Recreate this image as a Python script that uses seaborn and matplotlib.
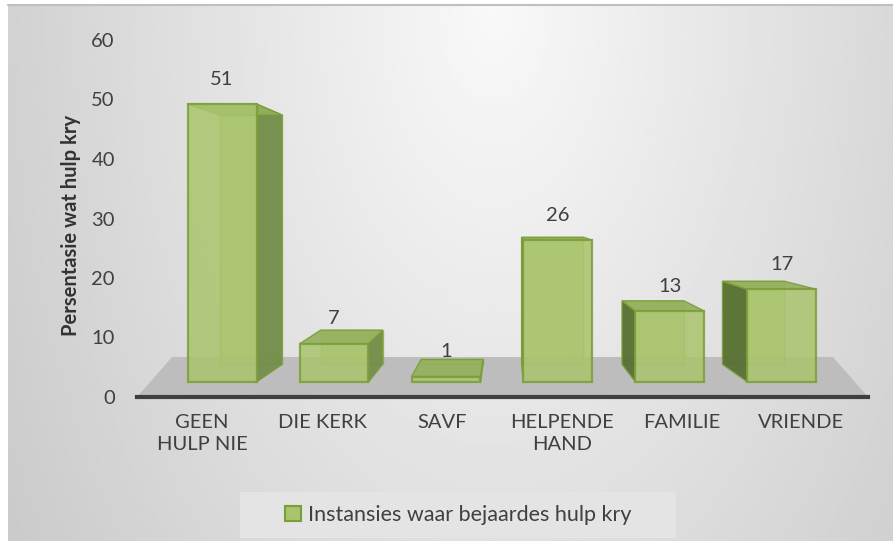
import numpy as np
import matplotlib.pyplot as plt
import seaborn as sns
from matplotlib.patches import Polygon, Patch, Rectangle
from matplotlib.lines import Line2D

# ── Data ──────────────────────────────────────────────────────
categories = ["GEEN\nHULP NIE", "DIE KERK", "SAVF", "HELPENDE\nHAND", "FAMILIE", "VRIENDE"]
values = [51, 7, 1, 26, 13, 17]
yticks = [0, 10, 20, 30, 40, 50, 60]
series_name = "Instansies waar bejaardes hulp kry"
y_title = "Persentasie wat hulp kry"

sns.set_style("white")
plt.rcParams['font.family'] = ['Lato', 'DejaVu Sans']

GREEN = '#A9C46C'
EDGE = '#7A9E38'
SIDE = '#738C4A'
TOP = '#93B05B'
TXT = '#404040'
FS = 14.5

W, H = 893, 547
fig = plt.figure(figsize=(W / 100, H / 100), dpi=100, facecolor='white')


def px(x0, y0, x1, y1):
    # pixel box (origin top-left) -> figure fraction rect
    return [x0 / W, 1 - y1 / H, (x1 - x0) / W, (y1 - y0) / H]


# ── Background gradient ───────────────────────────────────────
bg = fig.add_axes(px(8, 6, W, 541))
gx, gy = np.meshgrid(np.linspace(0, 1, 300), np.linspace(0, 1, 200))
r = np.hypot((gx - 0.55) / 0.5, 0.7 * gy)
bg.imshow(0.975 - 0.14 * np.minimum(r, 1.3), cmap='gray', vmin=0, vmax=1, aspect='auto')
bg.axis('off')
fig.add_artist(Line2D([8 / W, 1], [1 - 5 / H, 1 - 5 / H], color='#BFBFBF', lw=1.5))

# ── Value axis (ticks + title) ────────────────────────────────
ax_t = fig.add_axes(px(137, 40, 868, 397))
ax_t.patch.set_visible(False)
ax_t.set_ylim(0, 60)
ax_t.set_yticks(yticks)
ax_t.set_xticks([])
ax_t.tick_params(axis='y', length=0, pad=16, labelsize=FS, colors=TXT)
for s in ax_t.spines.values():
    s.set_visible(False)
ax_t.set_ylabel(y_title, fontsize=FS, fontweight='bold', color='#333333')
ax_t.yaxis.set_label_coords(-0.076, 0.48)

# ── Bar axes with pseudo-3D ───────────────────────────────────
ax = fig.add_axes(px(137, 40, 868, 397))
ax.patch.set_visible(False)
vp = (2.527, 31.4)   # vanishing point in data units
k = 0.897            # depth scale of the back face
w = 0.616

ax.add_patch(Polygon([(-0.759, -2.75), (5.768, -2.75), (5.455, 4.59), (-0.446, 4.59)],
                     closed=True, facecolor='#BDBDBD', edgecolor='none', zorder=1))


def back(x, y):
    return (vp[0] + (x - vp[0]) * k, vp[1] + (y - vp[1]) * k)


for i, h in enumerate(values):
    x0, x1 = i - w / 2, i + w / 2
    bface = [back(x0, 0), back(x1, 0), back(x1, h), back(x0, h)]
    ax.add_patch(Polygon(bface, closed=True, facecolor=GREEN, edgecolor=EDGE,
                         lw=1, alpha=0.6, zorder=2))
    if back(x1, 0)[0] > x1:
        ax.add_patch(Polygon([(x1, 0), (x1, h), back(x1, h), back(x1, 0)], closed=True,
                             facecolor=SIDE, edgecolor=EDGE, lw=1, alpha=0.92, zorder=3))
    if back(x0, 0)[0] < x0:
        ax.add_patch(Polygon([(x0, 0), (x0, h), back(x0, h), back(x0, 0)], closed=True,
                             facecolor='#566E31', edgecolor=EDGE, lw=1, alpha=0.92, zorder=3))
    ax.add_patch(Polygon([(x0, h), (x1, h), back(x1, h), back(x0, h)], closed=True,
                         facecolor=TOP, edgecolor=EDGE, lw=1, alpha=0.9, zorder=3))

sns.barplot(x=categories, y=values, ax=ax, color=GREEN, width=w, errorbar=None,
            edgecolor=EDGE, linewidth=1.6, alpha=0.85, saturation=1, zorder=4)

for i, v in enumerate(values):
    ax.annotate(str(v), (i, v), xytext=(0, 18), textcoords='offset points',
                ha='center', va='center', fontsize=FS, color=TXT)

ax.set_xlim(-0.759, 5.768)
ax.set_ylim(-2.75, 62.75)
pos = vp[0] + (np.arange(len(categories)) - vp[0]) * 1.07
ax.set_xticks(pos, categories)
ax.tick_params(axis='x', length=0, pad=12, labelsize=FS, colors=TXT)
for t in ax.get_xticklabels():
    t.set_linespacing(1.4)
ax.set_yticks([])
ax.set_xlabel('')
ax.set_ylabel('')
for name, s in ax.spines.items():
    s.set_visible(name == 'bottom')
ax.spines['bottom'].set_color('#3F3F3F')
ax.spines['bottom'].set_linewidth(3)

# ── Legend ────────────────────────────────────────────────────
fig.add_artist(Rectangle((240 / W, 1 - 538 / H), 436 / W, 46 / H,
                         transform=fig.transFigure, facecolor='#E4E4E4', edgecolor='none'))
fig.legend(handles=[Patch(facecolor=GREEN, edgecolor=EDGE, linewidth=1.5, label=series_name)],
           loc='center', bbox_to_anchor=(458 / W, 1 - 515 / H), frameon=False,
           fontsize=15.5, handlelength=0.75, handleheight=0.75, handletextpad=0.3,
           labelcolor=TXT)

fig.savefig('out.png', dpi=100)
